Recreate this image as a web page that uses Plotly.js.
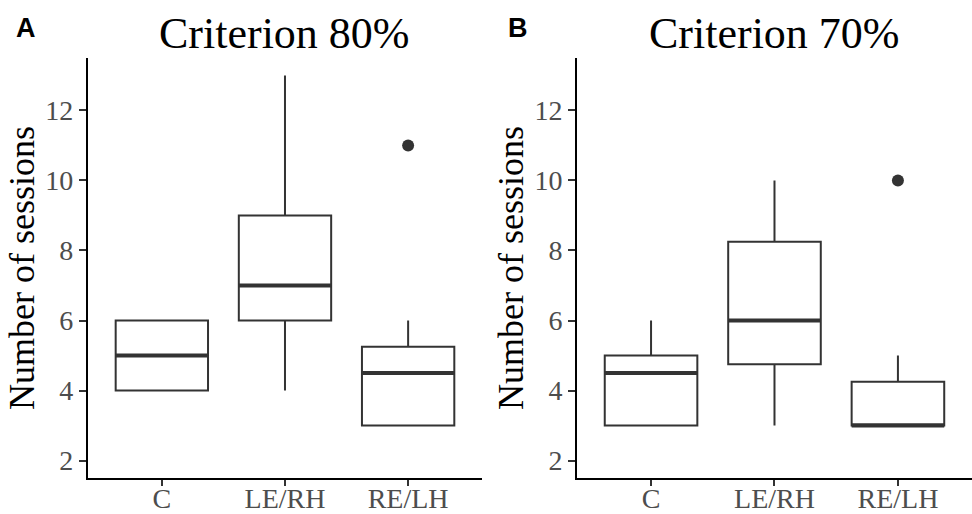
<!DOCTYPE html>
<html>
<head>
<meta charset="utf-8">
<script src="https://cdn.plot.ly/plotly-3.0.1.min.js"></script>
<style>html,body{margin:0;padding:0;background:#fff;}#chart{width:972px;height:514px;}</style>
</head>
<body>
<div id="chart"></div>
<script>
// Data
var groups = ["C", "LE/RH", "RE/LH"];

// Criterion 80%
var a_lower  = [4, 4, 3];
var a_q1     = [4, 6, 3];
var a_median = [5, 7, 4.5];
var a_q3     = [6, 9, 5.25];
var a_upper  = [6, 13, 6];
var a_outX   = ["RE/LH"];
var a_outY   = [11];

// Criterion 70%
var b_lower  = [3, 3, 3];
var b_q1     = [3, 4.75, 3];
var b_median = [4.5, 6, 3];
var b_q3     = [5, 8.25, 4.25];
var b_upper  = [6, 10, 5];
var b_outX   = ["RE/LH"];
var b_outY   = [10];

var panelTitles = ["Criterion 80%", "Criterion 70%"];
var panelTags = ["A", "B"];
var yTicks = [2, 4, 6, 8, 10, 12];

var lineCol = "#333333";

function boxTrace(xa, ya, lo, q1, md, q3, up) {
  return {
    type: "box", x: groups, xaxis: xa, yaxis: ya,
    lowerfence: lo, q1: q1, median: md, q3: q3, upperfence: up,
    width: 0.75, whiskerwidth: 0,
    fillcolor: "rgba(255,255,255,0)",
    line: {color: lineCol, width: 2},
    boxpoints: false, hoverinfo: "skip", showlegend: false
  };
}
function medianTrace(xa, ya, md) {
  return {
    type: "box", x: groups, xaxis: xa, yaxis: ya,
    lowerfence: md, q1: md, median: md, q3: md, upperfence: md,
    width: 0.75, whiskerwidth: 0,
    fillcolor: "rgba(255,255,255,0)",
    line: {color: lineCol, width: 4},
    boxpoints: false, hoverinfo: "skip", showlegend: false
  };
}
function outTrace(xa, ya, ox, oy) {
  return {
    type: "scatter", mode: "markers", x: ox, y: oy, xaxis: xa, yaxis: ya,
    marker: {color: lineCol, size: 12}, hoverinfo: "skip", showlegend: false
  };
}

var data = [
  boxTrace("x", "y", a_lower, a_q1, a_median, a_q3, a_upper),
  medianTrace("x", "y", a_median),
  outTrace("x", "y", a_outX, a_outY),
  boxTrace("x2", "y2", b_lower, b_q1, b_median, b_q3, b_upper),
  medianTrace("x2", "y2", b_median),
  outTrace("x2", "y2", b_outX, b_outY)
];

var serif = "Liberation Serif, Times New Roman, serif";

function xAxis(domain, anchor) {
  return {
    domain: domain, anchor: anchor, type: "category",
    categoryorder: "array", categoryarray: groups,
    range: [-0.6, 2.6], showgrid: false, zeroline: false,
    showline: true, linecolor: "#000", linewidth: 2,
    ticks: "outside", ticklen: 6, tickwidth: 2, tickcolor: lineCol,
    ticklabelstandoff: -12,
    tickfont: {family: serif, size: 28, color: "#4d4d4d"},
    fixedrange: true
  };
}
function yAxis(anchor) {
  return {
    domain: [0.07, 0.8872], anchor: anchor,
    range: [1.5, 13.5], tickvals: yTicks, ticktext: yTicks.map(String),
    showgrid: false, zeroline: false,
    showline: true, linecolor: "#000", linewidth: 2,
    ticks: "outside", ticklen: 7, tickwidth: 2, tickcolor: lineCol,
    tickfont: {family: serif, size: 28, color: "#4d4d4d"},
    title: {text: "Number of sessions", font: {family: serif, size: 36, color: "#000"}, standoff: 0},
    fixedrange: true
  };
}

var layout = {
  width: 972, height: 514,
  margin: {l: 0, r: 0, t: 0, b: 0},
  paper_bgcolor: "#fff", plot_bgcolor: "#fff",
  xaxis: xAxis([0.0905, 0.4959], "y"),
  yaxis: yAxis("x"),
  xaxis2: xAxis([0.5936, 1.0], "y2"),
  yaxis2: yAxis("x2"),
  boxmode: "overlay",
  annotations: [
    {text: panelTitles[0], xref: "x domain", yref: "paper", x: 0.5, y: 1 - 33/514,
     xanchor: "center", yanchor: "middle", showarrow: false,
     font: {family: serif, size: 44, color: "#000"}},
    {text: panelTitles[1], xref: "x2 domain", yref: "paper", x: 0.5, y: 1 - 33/514,
     xanchor: "center", yanchor: "middle", showarrow: false,
     font: {family: serif, size: 44, color: "#000"}},
    {text: "<b>" + panelTags[0] + "</b>", xref: "paper", yref: "paper", x: 26/972, y: 1 - 28/514,
     xanchor: "center", yanchor: "middle", showarrow: false,
     font: {family: "Liberation Sans, Arial, sans-serif", size: 27, color: "#000"}},
    {text: "<b>" + panelTags[1] + "</b>", xref: "paper", yref: "paper", x: 518/972, y: 1 - 28/514,
     xanchor: "center", yanchor: "middle", showarrow: false,
     font: {family: "Liberation Sans, Arial, sans-serif", size: 27, color: "#000"}}
  ]
};

Plotly.newPlot("chart", data, layout, {displayModeBar: false, staticPlot: true});
</script>
</body>
</html>
